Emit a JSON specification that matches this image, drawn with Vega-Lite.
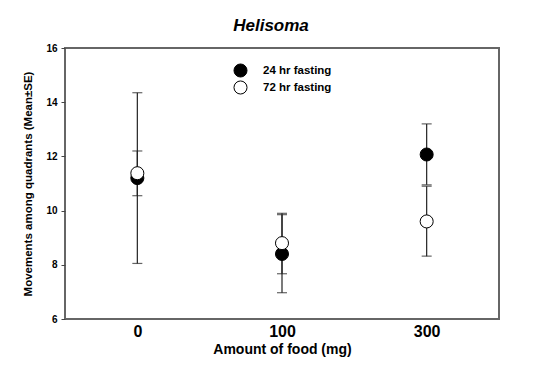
{
  "$schema": "https://vega.github.io/schema/vega-lite/v6.json",
  "width": 434,
  "height": 271,
  "autosize": {"type": "none"},
  "padding": {"left": 65, "top": 48, "right": 34, "bottom": 48},
  "background": "white",
  "config": {
    "font": "Liberation Sans",
    "view": {"stroke": "#666", "strokeWidth": 2},
    "axis": {"labelColor": "black", "titleColor": "black", "grid": false}
  },
  "title": {"text": "Helisoma", "fontSize": 17, "fontWeight": "bold", "fontStyle": "italic", "font": "Liberation Sans", "dx": -11, "offset": 8, "color": "black"},
  "data": {"values": [
    {"food": "0", "group": "24 hr fasting", "mean": 11.2, "lo": 8.05, "hi": 14.35},
    {"food": "100", "group": "24 hr fasting", "mean": 8.4, "lo": 6.97, "hi": 9.85},
    {"food": "300", "group": "24 hr fasting", "mean": 12.07, "lo": 10.95, "hi": 13.2},
    {"food": "0", "group": "72 hr fasting", "mean": 11.38, "lo": 10.55, "hi": 12.2},
    {"food": "100", "group": "72 hr fasting", "mean": 8.8, "lo": 7.67, "hi": 9.9},
    {"food": "300", "group": "72 hr fasting", "mean": 9.6, "lo": 8.32, "hi": 10.9}
  ]},
  "encoding": {
    "x": {
      "field": "food", "type": "ordinal", "sort": ["0", "100", "300"],
      "scale": {"type": "point", "padding": 0.5},
      "axis": {"title": "Amount of food (mg)", "labelAngle": 0, "ticks": false, "tickSize": 0, "domain": false, "labelPadding": 4, "labelFontSize": 16, "labelFontWeight": "bold", "titleFontSize": 14, "titleFontWeight": "bold", "titlePadding": 3}
    }
  },
  "layer": [
    {
      "mark": {"type": "rule", "color": "#222", "strokeWidth": 1.2},
      "encoding": {
        "y": {"field": "lo", "type": "quantitative", "title": "Movements among quadrants (Mean±SE)",
          "scale": {"domain": [6, 16], "nice": false, "zero": false},
          "axis": {"values": [6, 8, 10, 12, 14, 16], "tickSize": 4, "tickColor": "#444", "domain": false, "labelPadding": 4, "labelFontSize": 10, "labelFontWeight": "bold", "titleFontSize": 11.5, "titleFontWeight": "bold", "titleX": -37, "titleY": 135.5, "titleBaseline": "middle", "titleAngle": -90}},
        "y2": {"field": "hi"}
      }
    },
    {
      "mark": {"type": "tick", "color": "#222", "thickness": 1.2, "size": 10, "orient": "horizontal"},
      "encoding": {"y": {"field": "lo", "type": "quantitative", "title": "Movements among quadrants (Mean±SE)"}}
    },
    {
      "mark": {"type": "tick", "color": "#222", "thickness": 1.2, "size": 10, "orient": "horizontal"},
      "encoding": {"y": {"field": "hi", "type": "quantitative", "title": "Movements among quadrants (Mean±SE)"}}
    },
    {
      "mark": {"type": "circle", "size": 170, "stroke": "black", "strokeWidth": 1, "opacity": 1},
      "encoding": {
        "y": {"field": "mean", "type": "quantitative", "title": "Movements among quadrants (Mean±SE)"},
        "fill": {"field": "group", "type": "nominal",
          "scale": {"domain": ["24 hr fasting", "72 hr fasting"], "range": ["black", "white"]},
          "legend": {"title": null, "orient": "none", "legendX": 168, "legendY": 15, "padding": 0, "labelFontSize": 11.5, "labelFontWeight": "bold", "labelColor": "black", "symbolSize": 170, "symbolStrokeColor": "black", "symbolStrokeWidth": 1, "symbolType": "circle", "symbolOpacity": 1, "labelOffset": 15, "rowPadding": -3}}
      }
    }
  ]
}
